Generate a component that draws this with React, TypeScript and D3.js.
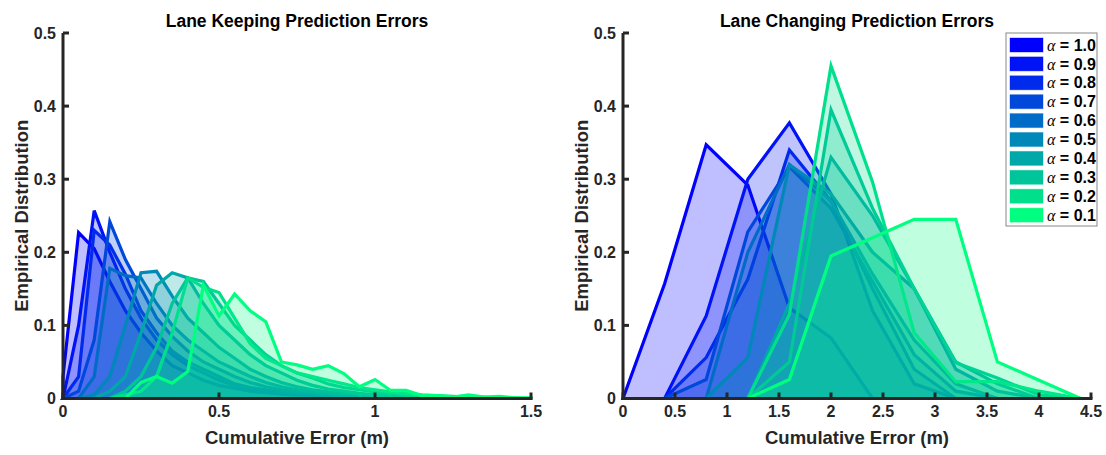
import React from 'react';
import * as d3 from 'd3';

// alpha values, top of legend first
const alphas = ['1.0', '0.9', '0.8', '0.7', '0.6', '0.5', '0.4', '0.3', '0.2', '0.1'];
const colors = ['#0000ff', '#0012f6', '#002aec', '#0048da', '#006cc8', '#0088b8', '#00a8a8', '#00c49a', '#00e08c', '#00ff80'];

// lane keeping: bins of 0.05 m, 0 .. 1.5
const keepX = d3.range(31).map(i => i * 0.05);
const keepY = [
  [0.03, 0.227, 0.205, 0.16, 0.12, 0.09, 0.065, 0.045, 0.035, 0.025, 0.018, 0.014, 0.01, 0.008, 0.006, 0.005, 0.004, 0.003, 0.002, 0.002, 0.001, 0.001, 0, 0, 0, 0, 0, 0, 0, 0, 0],
  [0, 0.1, 0.257, 0.2, 0.15, 0.11, 0.08, 0.06, 0.045, 0.035, 0.025, 0.018, 0.013, 0.01, 0.008, 0.006, 0.004, 0.003, 0.002, 0.002, 0.001, 0.001, 0, 0, 0, 0, 0, 0, 0, 0, 0],
  [0, 0.03, 0.23, 0.21, 0.17, 0.12, 0.09, 0.065, 0.05, 0.04, 0.03, 0.02, 0.015, 0.012, 0.009, 0.007, 0.005, 0.004, 0.003, 0.002, 0.001, 0.001, 0, 0, 0, 0, 0, 0, 0, 0, 0],
  [0, 0.01, 0.08, 0.242, 0.19, 0.15, 0.11, 0.085, 0.065, 0.05, 0.04, 0.03, 0.022, 0.016, 0.012, 0.009, 0.007, 0.005, 0.004, 0.003, 0.002, 0.001, 0.001, 0, 0, 0, 0, 0, 0, 0, 0],
  [0, 0, 0.03, 0.178, 0.168, 0.165, 0.13, 0.1, 0.08, 0.065, 0.05, 0.04, 0.03, 0.022, 0.016, 0.012, 0.009, 0.007, 0.005, 0.004, 0.003, 0.002, 0.001, 0.001, 0, 0, 0, 0, 0, 0, 0],
  [0, 0, 0.005, 0.03, 0.1, 0.172, 0.174, 0.14, 0.11, 0.09, 0.07, 0.055, 0.04, 0.03, 0.022, 0.016, 0.012, 0.009, 0.007, 0.005, 0.004, 0.003, 0.002, 0.001, 0.001, 0, 0, 0, 0, 0, 0],
  [0, 0, 0, 0.01, 0.03, 0.09, 0.155, 0.172, 0.165, 0.13, 0.1, 0.08, 0.06, 0.045, 0.035, 0.025, 0.018, 0.013, 0.01, 0.007, 0.005, 0.004, 0.003, 0.002, 0.001, 0.001, 0, 0, 0, 0, 0],
  [0, 0, 0, 0, 0.01, 0.03, 0.07, 0.13, 0.165, 0.16, 0.13, 0.1, 0.08, 0.06, 0.045, 0.035, 0.028, 0.02, 0.015, 0.012, 0.009, 0.007, 0.005, 0.004, 0.003, 0.002, 0.001, 0.001, 0, 0, 0],
  [0, 0, 0, 0, 0.005, 0.01, 0.03, 0.09, 0.165, 0.152, 0.145, 0.11, 0.075, 0.055, 0.045, 0.035, 0.03, 0.025, 0.02, 0.015, 0.012, 0.009, 0.007, 0.005, 0.004, 0.003, 0.002, 0.002, 0.001, 0.001, 0],
  [0, 0, 0, 0, 0, 0.022, 0.03, 0.021, 0.037, 0.155, 0.113, 0.143, 0.12, 0.105, 0.05, 0.046, 0.04, 0.045, 0.034, 0.016, 0.026, 0.011, 0.011, 0.004, 0.004, 0.002, 0.005, 0.002, 0.003, 0.001, 0.001],
];

// lane changing: bins of 0.4 m, 0 .. 4.4
const changeX = d3.range(12).map(i => i * 0.4);
const changeY = [
  [0, 0.157, 0.347, 0.292, 0.124, 0.083, 0, 0, 0, 0, 0, 0],
  [0, 0, 0.113, 0.3, 0.377, 0.28, 0.12, 0.02, 0, 0, 0, 0],
  [0, 0, 0.056, 0.163, 0.34, 0.27, 0.15, 0.04, 0, 0, 0, 0],
  [0, 0, 0.026, 0.228, 0.317, 0.26, 0.16, 0.06, 0.01, 0, 0, 0],
  [0, 0, 0, 0.2, 0.32, 0.27, 0.17, 0.08, 0.02, 0, 0, 0],
  [0, 0, 0, 0.056, 0.32, 0.28, 0.2, 0.15, 0.04, 0.01, 0, 0],
  [0, 0, 0, 0, 0.13, 0.33, 0.25, 0.15, 0.05, 0.02, 0, 0],
  [0, 0, 0, 0, 0.05, 0.395, 0.26, 0.15, 0.049, 0.028, 0.005, 0],
  [0, 0, 0, 0, 0.115, 0.455, 0.296, 0.09, 0.023, 0.023, 0.01, 0],
  [0, 0, 0, 0, 0.026, 0.195, 0.22, 0.245, 0.245, 0.05, 0.025, 0],
];

const yTicks = [0, 0.1, 0.2, 0.3, 0.4, 0.5];
const keepTicks = [0, 0.5, 1, 1.5];
const changeTicks = [0, 0.5, 1, 1.5, 2, 2.5, 3, 3.5, 4, 4.5];

const font = '"Liberation Sans", Arial, sans-serif';
const axisColor = '#262626';

const Panel = ({ left, right, xMax, xs, ys, ticks, title }) => {
  const x = d3.scaleLinear().domain([0, xMax]).range([left, right]);
  const y = d3.scaleLinear().domain([0, 0.5]).range([398.5, 33]);
  const area = d3.area<number>()
    .x((d, i) => x(xs[i]))
    .y0(y(0))
    .y1(d => y(d));
  const cx = (left + right) / 2;
  return (
    <g>
      {ys.map((s, k) => (
        <path key={k} d={area(s) + 'Z'} fill={colors[k]} fillOpacity={0.25}
          stroke={colors[k]} strokeWidth={3.2} strokeLinejoin="miter" />
      ))}
      <line x1={left} x2={left} y1={y(0.5)} y2={y(0) + 1.5} stroke={axisColor} strokeWidth={3} />
      <line x1={left - 1.5} x2={right + 1.5} y1={y(0)} y2={y(0)} stroke={axisColor} strokeWidth={3} />
      {yTicks.map(t => (
        <g key={t}>
          <line x1={left} x2={left + 6} y1={y(t)} y2={y(t)} stroke={axisColor} strokeWidth={3} />
          <text x={left - 7} y={y(t)} dy="0.35em" textAnchor="end" fontSize={16} fontWeight="bold" fill={axisColor} fontFamily={font}>{t === 0 ? '0' : t}</text>
        </g>
      ))}
      {ticks.map(t => (
        <g key={t}>
          <line x1={x(t)} x2={x(t)} y1={y(0)} y2={y(0) - 6} stroke={axisColor} strokeWidth={3} />
          <text x={x(t)} y={y(0) + 18} textAnchor="middle" fontSize={16} fontWeight="bold" fill={axisColor} fontFamily={font}>{t}</text>
        </g>
      ))}
      <text x={cx} y={27} textAnchor="middle" fontSize={17.5} fontWeight="bold" fill="#000" fontFamily={font}>{title}</text>
      <text x={cx} y={444} textAnchor="middle" fontSize={18.5} fontWeight="bold" fill={axisColor} fontFamily={font}>Cumulative Error (m)</text>
      <text transform={`translate(${left - 35},${(y(0) + y(0.5)) / 2}) rotate(-90)`} textAnchor="middle" fontSize={18.5} fontWeight="bold" fill={axisColor} fontFamily={font}>Empirical Distribution</text>
    </g>
  );
};

const Legend = ({ x0, y0 }) => {
  const row = 18.9;
  return (
    <g>
      <rect x={x0} y={y0} width={91} height={193} fill="#fff" stroke="#888" strokeWidth={1} />
      {alphas.map((a, i) => (
        <g key={a} transform={`translate(${x0 + 4},${y0 + 12 + i * row})`}>
          <rect x={0} y={-7} width={33} height={14} fill={colors[i]} stroke={colors[i]} strokeOpacity={0.4} />
          <text x={37} y={0} dy="0.35em" fontSize={16} fontWeight="bold" fill="#000" fontFamily={font}>
            <tspan fontFamily='"Liberation Serif", "Times New Roman", serif' fontStyle="italic" fontWeight="normal">α</tspan>
            {' = ' + a}
          </text>
        </g>
      ))}
    </g>
  );
};

export default function App() {
  return (
    <svg width={1106} height={455} style={{ position: 'absolute', left: 0, top: 0, background: '#fff' }}>
      <rect width={1106} height={455} fill="#fff" />
      <Panel left={63} right={531} xMax={1.5} xs={keepX} ys={keepY} ticks={keepTicks} title="Lane Keeping Prediction Errors" />
      <Panel left={623} right={1091} xMax={4.5} xs={changeX} ys={changeY} ticks={changeTicks} title="Lane Changing Prediction Errors" />
      <Legend x0={1006} y0={33} />
    </svg>
  );
}
